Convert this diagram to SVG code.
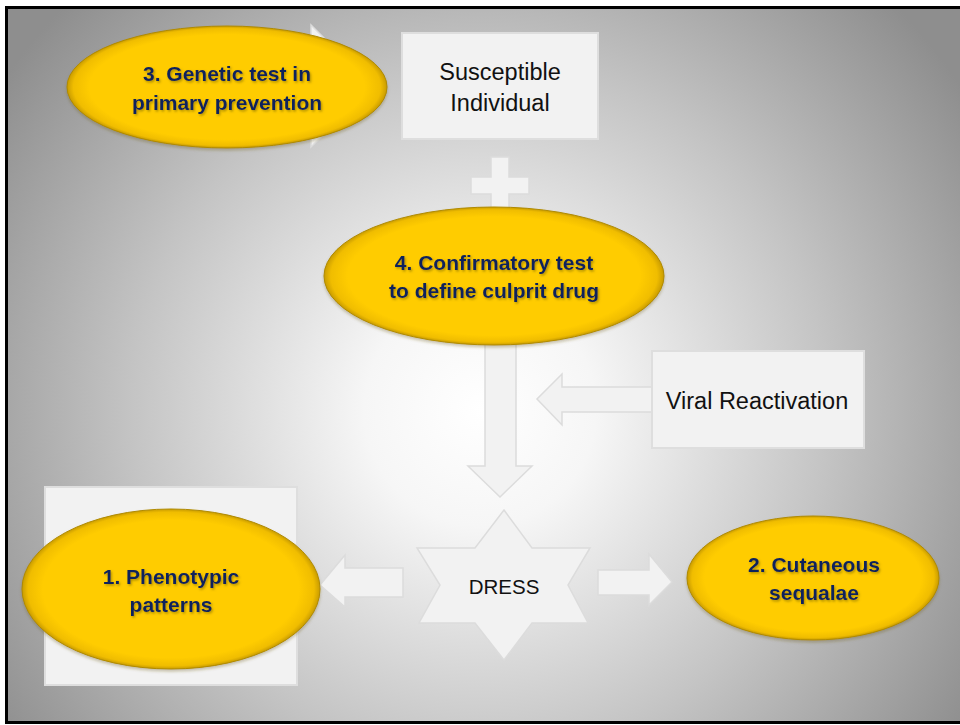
<svg xmlns="http://www.w3.org/2000/svg" width="960" height="725" viewBox="0 0 960 725">
<defs>
<radialGradient id="bg" gradientUnits="userSpaceOnUse" cx="480" cy="410" r="580">
<stop offset="0" stop-color="#ffffff"/>
<stop offset="0.2" stop-color="#f6f6f6"/>
<stop offset="0.6" stop-color="#c4c4c4"/>
<stop offset="1" stop-color="#8e8e8e"/>
</radialGradient>
<radialGradient id="yel" cx="0.5" cy="0.5" r="0.5">
<stop offset="0" stop-color="#ffcc00"/>
<stop offset="0.86" stop-color="#ffcc00"/>
<stop offset="0.96" stop-color="#f0bd00"/>
<stop offset="1" stop-color="#c99c00"/>
</radialGradient>
<filter id="ts" x="-10%" y="-30%" width="130%" height="160%">
<feDropShadow dx="1.2" dy="1.5" stdDeviation="0.8" flood-color="#6b5a00" flood-opacity="0.55"/>
</filter>
<filter id="es" x="-10%" y="-10%" width="120%" height="125%">
<feDropShadow dx="0" dy="2" stdDeviation="1.5" flood-color="#6a5a20" flood-opacity="0.35"/>
</filter>
</defs>
<style>
.box{fill:#f2f2f2;stroke:#dedede;stroke-width:2}
.arr{fill:#f2f2f2;stroke:#dcdcdc;stroke-width:1.5}
.ell{fill:url(#yel);stroke:#b08a00;stroke-width:1}
.lt{font-family:"Liberation Sans",Arial,sans-serif;font-size:23.5px;fill:#111;text-anchor:middle}
.bt{font-family:"Liberation Sans",Arial,sans-serif;font-size:21px;font-weight:bold;fill:#10245c;text-anchor:middle;filter:url(#ts)}
</style>
<rect x="0" y="0" width="960" height="725" fill="#ffffff"/>
<rect x="6.5" y="7.5" width="960" height="715" fill="url(#bg)" stroke="#000" stroke-width="3"/>

<g id="connectors">
<polygon class="arr" points="311,25 372,86 311,147"/>
<polygon class="arr" points="491,157 509,157 509,177 529,177 529,194 509,194 509,214 491,214 491,194 471,194 471,177 491,177"/>
<polygon class="arr" points="485,340 516,340 516,466 532,466 500,497 468,466 485,466"/>
<polygon class="arr" points="652,387 562,387 562,374 537,399 562,425 562,412 652,412"/>
<polygon class="arr" points="403,568 345,568 345,555 320,585 345,607 345,597 403,597"/>
<polygon class="arr" points="598,570 649,570 649,554 672,582 649,605 649,595 598,595"/>
</g>

<g id="susceptible">
<rect class="box" x="402" y="33" width="196" height="106"/>
<text class="lt" x="500" y="80">Susceptible</text>
<text class="lt" x="500" y="111">Individual</text>
</g>

<g id="viral">
<rect class="box" x="652" y="351" width="212" height="97"/>
<text class="lt" x="757" y="409">Viral Reactivation</text>
</g>

<g id="dress">
<polygon class="arr" points="504,510 532,548 590,548 568,585 588,623 532,623 504,660 475,623 419,623 440,585 417,548 475,548"/>
<text class="lt" x="504" y="594" style="font-size:20.5px">DRESS</text>
</g>

<g id="phenotypic">
<rect class="box" x="45" y="487" width="252" height="198"/>
<ellipse class="ell" cx="171" cy="589" rx="149" ry="80" filter="url(#es)"/>
<text class="bt" x="171" y="584">1. Phenotypic</text>
<text class="bt" x="171" y="612">patterns</text>
</g>

<g id="cutaneous">
<ellipse class="ell" cx="813" cy="578" rx="126" ry="62" filter="url(#es)"/>
<text class="bt" x="814" y="572">2. Cutaneous</text>
<text class="bt" x="814" y="600">sequalae</text>
</g>

<g id="genetic">
<ellipse class="ell" cx="227" cy="87" rx="160" ry="61" filter="url(#es)"/>
<text class="bt" x="227" y="81">3. Genetic test in</text>
<text class="bt" x="227" y="110">primary prevention</text>
</g>

<g id="confirmatory">
<ellipse class="ell" cx="494" cy="276" rx="170" ry="69" filter="url(#es)"/>
<text class="bt" x="494" y="270">4. Confirmatory test</text>
<text class="bt" x="494" y="298">to define culprit drug</text>
</g>
</svg>
